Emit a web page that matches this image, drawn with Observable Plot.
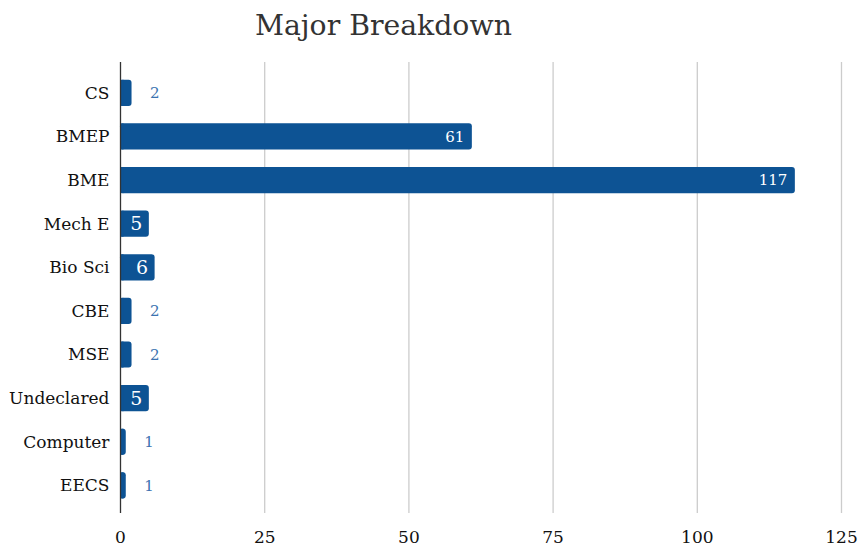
<!DOCTYPE html>
<html>
<head>
<meta charset="utf-8">
<script src="https://cdn.jsdelivr.net/npm/d3@7"></script>
<script src="https://cdn.jsdelivr.net/npm/@observablehq/plot@0.6"></script>
<style>
  html, body { margin: 0; padding: 0; background: #fff; }
  #wrap { position: relative; width: 861px; height: 550px; }
  #title { position: absolute; left: 255px; top: 9px; font-family: "DejaVu Serif", serif; font-size: 28.3px; color: #333; white-space: nowrap; }
  #chart { position: absolute; left: 0; top: 50px; }
</style>
</head>
<body>
<div id="wrap">
  <div id="title">Major Breakdown</div>
  <div id="chart"></div>
</div>
<script>
const majors = ["CS", "BMEP", "BME", "Mech E", "Bio Sci", "CBE", "MSE", "Undeclared", "Computer", "EECS"];
const counts = [2, 61, 117, 5, 6, 2, 2, 5, 1, 1];
const xTicks = [0, 25, 50, 75, 100, 125];

const data = majors.map((m, i) => ({major: m, value: counts[i]}));
const inside = data.filter(d => d.value >= 5);
const insideSmall = inside.filter(d => d.value < 10);
const insideBig = inside.filter(d => d.value >= 10);
const outside = data.filter(d => d.value < 5);

const barColor = "#0d5394";

const chart = Plot.plot({
  width: 861,
  height: 500,
  marginTop: 12,
  marginBottom: 37,
  marginLeft: 120,
  marginRight: 20,
  style: {fontFamily: "DejaVu Serif, serif", fontSize: "17px", color: "#111", background: "#fff"},
  x: {domain: [0, 125], ticks: xTicks, tickSize: 0, tickPadding: 17, label: null},
  y: {domain: majors, paddingInner: 0.4, paddingOuter: 0.37, align: 0.55, round: false, tickSize: 0, tickPadding: 11, label: null},
  marks: [
    Plot.gridX(xTicks.slice(1), {stroke: "#cccccc", strokeOpacity: 1, strokeWidth: 1.3}),
    Plot.barX(data, {x: "value", y: "major", fill: barColor, rx: 3}),
    Plot.barX(data, {x1: 0, x2: d => Math.min(d.value, 0.6), y: "major", fill: barColor}),
    Plot.ruleX([0], {stroke: "#333", strokeWidth: 1.3}),
    Plot.text(insideSmall, {x: "value", y: "major", text: d => String(d.value), textAnchor: "end", dx: -7, fill: "white", fontSize: 19}),
    Plot.text(insideBig, {x: "value", y: "major", text: d => String(d.value), textAnchor: "end", dx: -8, fill: "white", fontSize: 15}),
    Plot.text(outside, {x: "value", y: "major", text: d => String(d.value), textAnchor: "start", dx: 18, fill: "#3b73b0", fontSize: 15})
  ]
});
document.getElementById("chart").appendChild(chart);
</script>
</body>
</html>
